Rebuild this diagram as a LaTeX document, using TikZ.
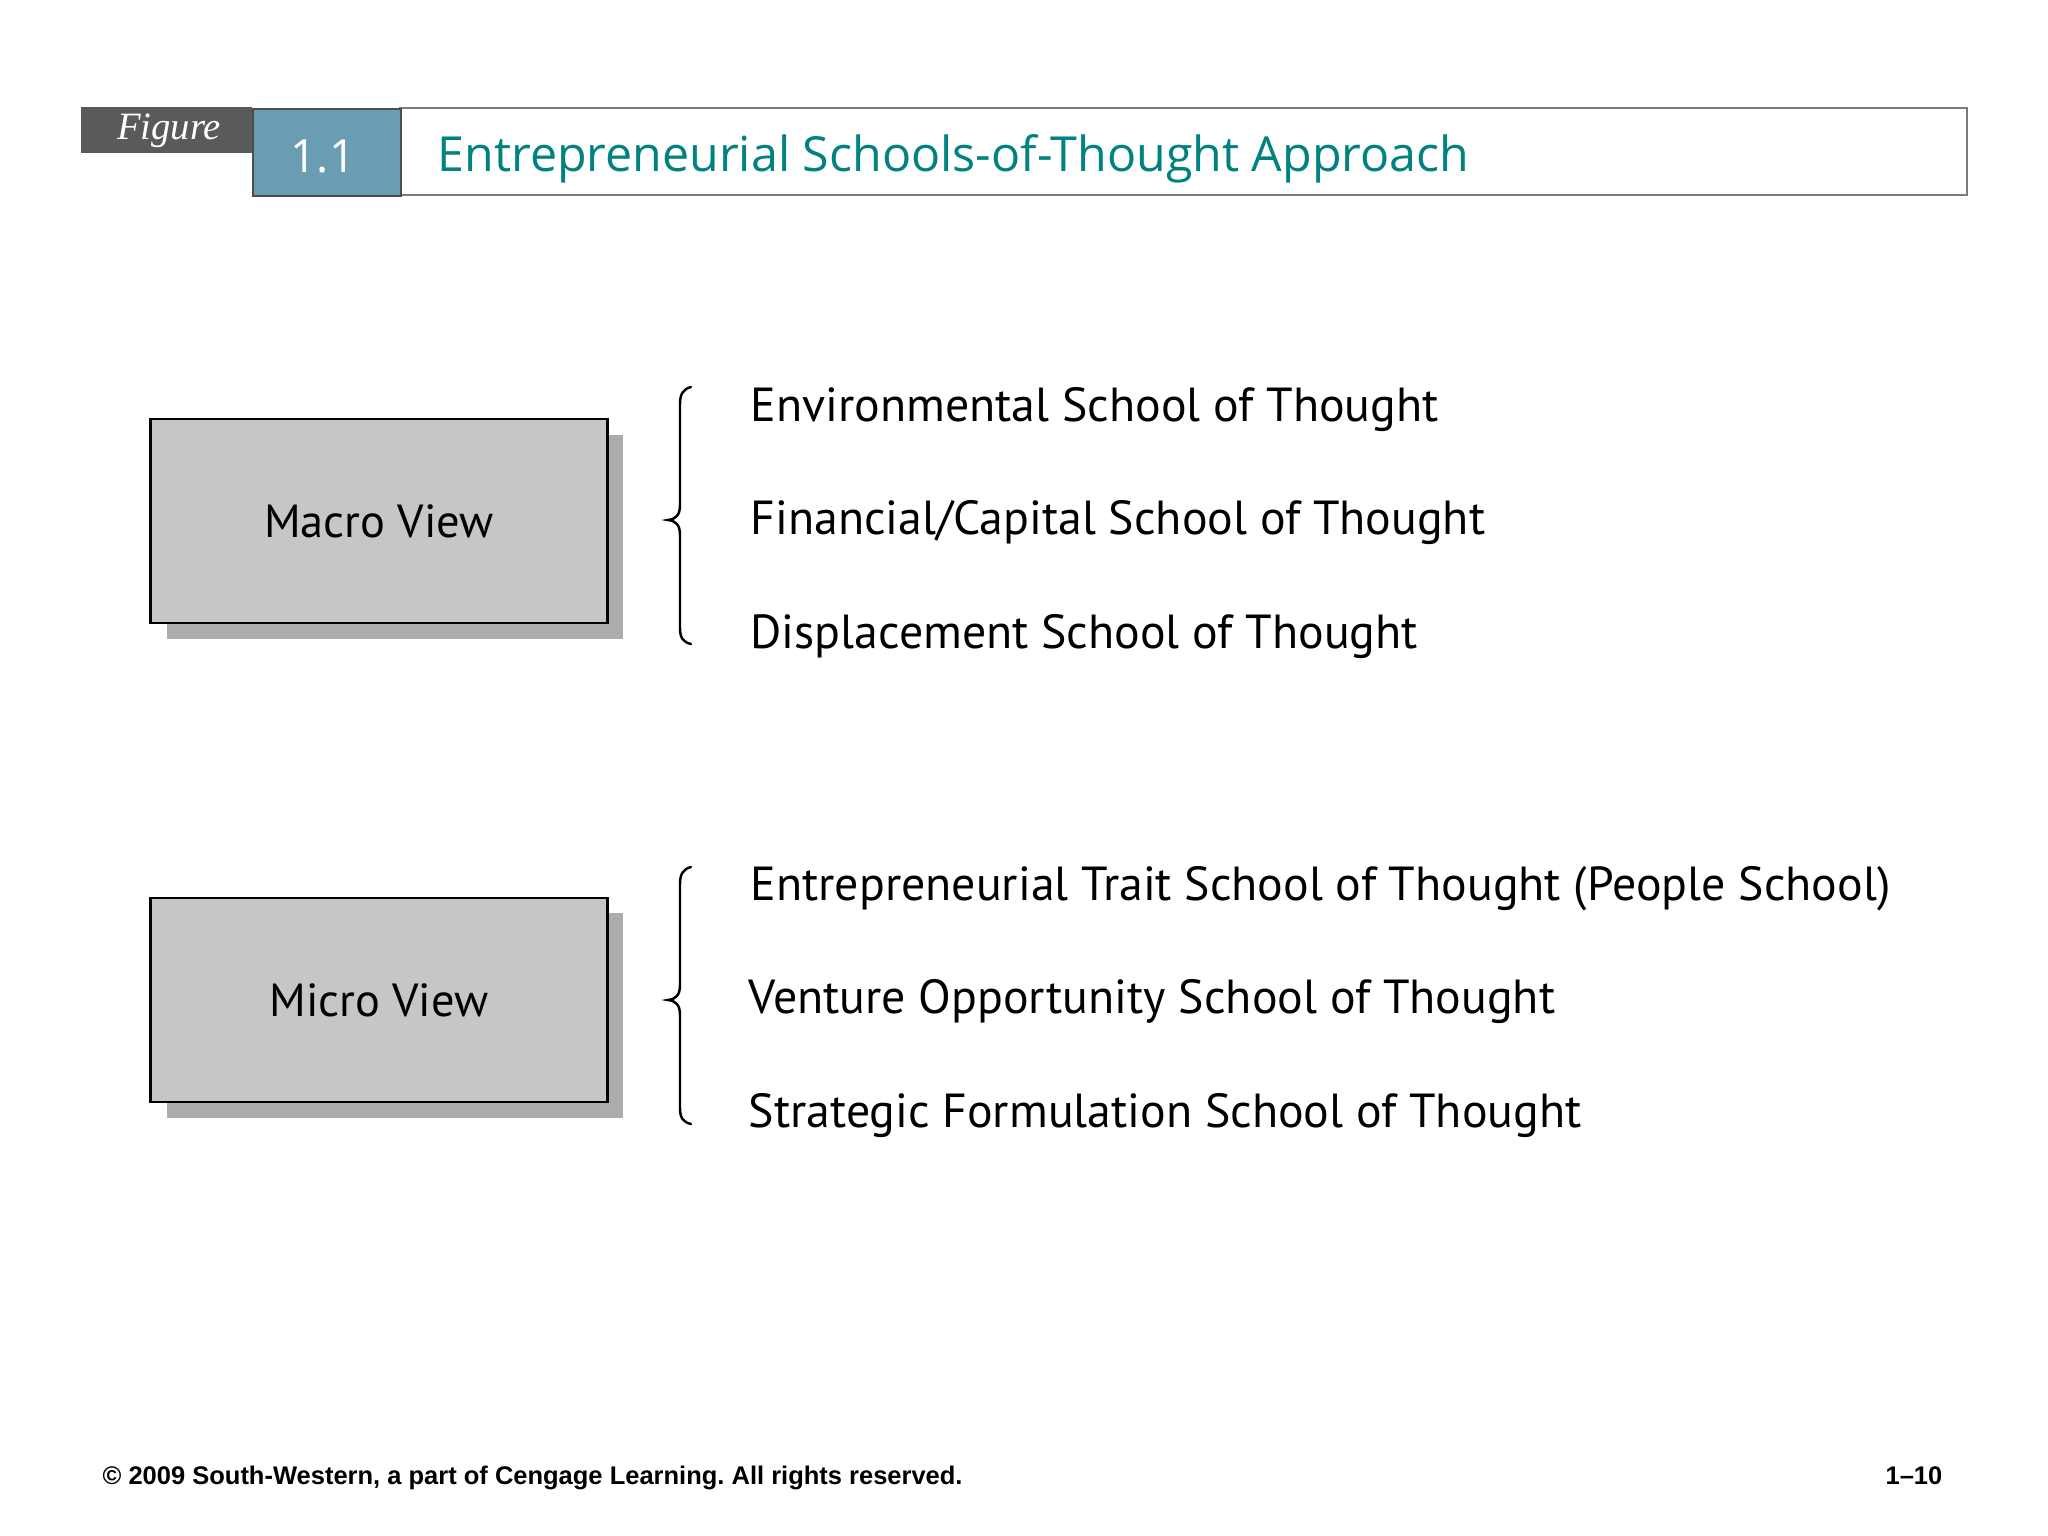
\documentclass[tikz,border=0pt]{standalone}
\usepackage{fontspec}
\setmainfont{PT Sans}
\newfontfamily\titlefont{Open Sans}
\newfontfamily\footfont[Ligatures=TeX]{Liberation Sans}
\newfontfamily\figfont{Liberation Serif}
\definecolor{tabgray}{HTML}{5A5A5A}
\definecolor{numblue}{HTML}{6A9DB3}
\definecolor{titleteal}{HTML}{00827F}
\definecolor{boxfill}{HTML}{C6C6C8}
\definecolor{shadowgray}{HTML}{ACABAD}
\definecolor{frame}{HTML}{7A7A7A}
\tikzset{
  viewbox/.style={draw=black, line width=0.8pt, fill=boxfill, minimum width=4.56cm, minimum height=2.04cm, inner sep=0pt, font=\fontsize{13.2}{15}\selectfont},
  item/.style={anchor=base west, inner sep=0pt, font=\fontsize{13.6}{15}\selectfont},
  bracestyle/.style={line width=0.7pt, line cap=round},
  foot/.style={inner sep=0pt, font=\footfont\bfseries\fontsize{7.25}{9}\selectfont},
}
\frenchspacing
\begin{document}
\begin{tikzpicture}[x=0.01cm, y=-0.01cm]
\useasboundingbox (0,0) rectangle (2048,1536);
% header
\fill[tabgray] (81,107) rectangle (252,153);
\node[text=white, font=\figfont\itshape\fontsize{11}{13}\selectfont] (figlabel) at (169,131) {Figure};
\draw[frame, line width=0.8pt, fill=white] (400,108) rectangle (1967,195);
\node[draw=black!70, line width=0.6pt, fill=numblue, minimum width=1.48cm, minimum height=0.87cm, inner sep=0pt, anchor=north west] (num) at (252,108) {};
\node[text=white, font=\titlefont\fontsize{13}{15}\selectfont] (numtext) at (323,156) {1.1};
\node[anchor=base west, inner sep=0pt, text=titleteal, font=\titlefont\fontsize{13.75}{16}\selectfont] (title) at (437,171) {Entrepreneurial Schools-of-Thought Approach};
% boxes
\fill[shadowgray] (167,435) rectangle (623,639);
\node[viewbox] (macro) at (379,521) {Macro View};
\fill[shadowgray] (167,913) rectangle (623,1118);
\node[viewbox] (micro) at (379,1000) {Micro View};
% braces
\foreach \dy in {0,480} {
\begin{scope}[yshift=-\dy*0.01cm]
\draw[bracestyle] (691,387) .. controls (683,389) and (680,394) .. (680,404) -- (680,505) .. controls (680,515) and (676,519) .. (668,520) .. controls (676,521) and (680,525) .. (680,535) -- (680,628) .. controls (680,638) and (683,642) .. (691,644);
\end{scope}
}
% items
\node[item] (env) at (750,421) {Environmental School of Thought};
\node[item] (fin) at (750,534) {Financial/Capital School of Thought};
\node[item] (dis) at (750,648) {Displacement School of Thought};
\node[item] (trait) at (750,900) {Entrepreneurial Trait School of Thought (People School)};
\node[item] (vent) at (748,1013) {Venture Opportunity School of Thought};
\node[item] (strat) at (748,1127) {Strategic Formulation School of Thought};
% footer
\node[foot, anchor=base west] (copy) at (102,1484) {\textcopyright\ 2009 South-Western, a part of Cengage Learning. All rights reserved.};
\node[foot, anchor=base east] (page) at (1943,1484) {1–10};
\end{tikzpicture}
\end{document}
